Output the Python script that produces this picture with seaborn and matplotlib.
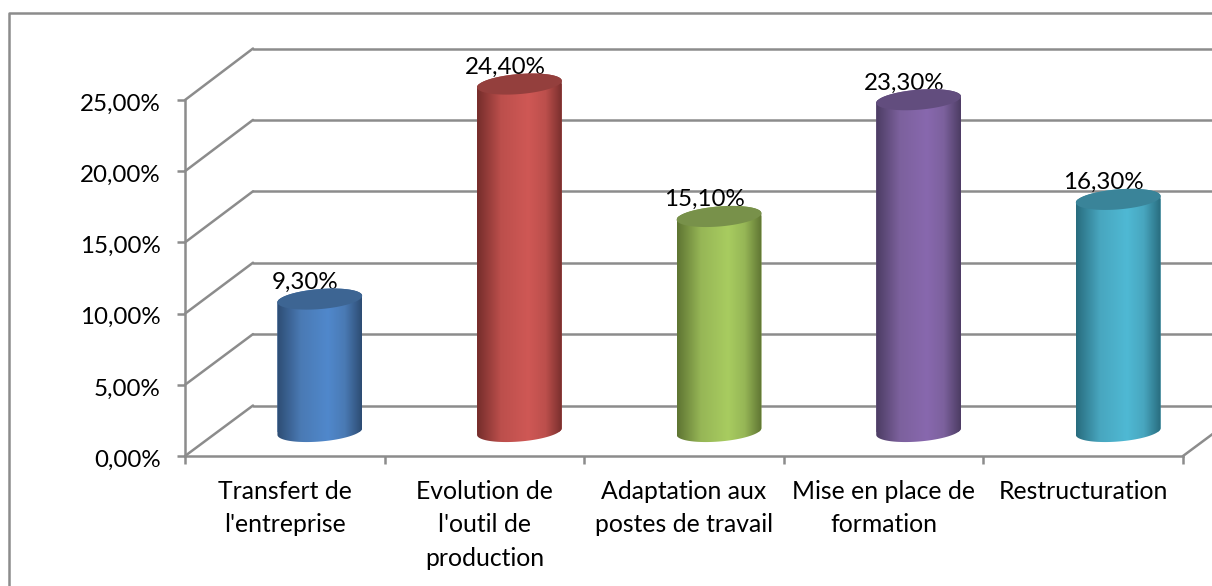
import numpy as np
import matplotlib
matplotlib.use("Agg")
import matplotlib.pyplot as plt
import seaborn as sns
from matplotlib.colors import LinearSegmentedColormap
from matplotlib.lines import Line2D
from matplotlib.patches import ConnectionPatch
from matplotlib.path import Path
from matplotlib.transforms import ScaledTranslation

categories = ["Transfert de\nl'entreprise", "Evolution de\nl'outil de\nproduction",
              "Adaptation aux\npostes de travail", "Mise en place de\nformation", "Restructuration"]
values = [9.3, 24.4, 15.1, 23.3, 16.3]
y_ticks = [0, 5, 10, 15, 20, 25]
body_colors = ["#4A7AB4", "#BC4F4C", "#96B656", "#7C619D", "#48A6BF"]
light_colors = ["#5088CC", "#CF5855", "#A8CC60", "#8868AE", "#4FB9D4"]
dark_colors = ["#2D4C73", "#752D2B", "#5E7432", "#4C3C63", "#286C7E"]
top_colors = ["#3D6593", "#943F3D", "#78914A", "#624D7E", "#3A8499"]
grey = "#8C8C8C"

W, H = 1212, 586
sns.set_theme(style="white")
plt.rcParams["font.family"] = ["Lato", "DejaVu Sans"]
fig = plt.figure(figsize=(W / 100, H / 100), dpi=100)

def rect(x0, ytop, x1, ybot):
    return [x0 / W, 1 - ybot / H, (x1 - x0) / W, (ybot - ytop) / H]

# Back wall, front axis plane and middle plane for the cylinders
ax_back = fig.add_axes(rect(253, 48.5, 1251, 405.5), zorder=0)
ax = fig.add_axes(rect(185, 100, 1183, 456), zorder=1)
ax_cyl = fig.add_axes(rect(220, 75.5, 1218, 431.5), zorder=2)

for a in (ax_back, ax, ax_cyl):
    a.set_xlim(-0.5, 4.5)
    a.set_ylim(0, 25)
    a.patch.set_visible(False)

ax_back.set_xticks([])
ax_back.set_yticks(y_ticks)
ax_back.set_yticklabels([])
ax_back.tick_params(left=False)
ax_back.grid(True, axis="y", color=grey, lw=1.8)
for line in ax_back.get_ygridlines():
    line.set_clip_on(False)
for s in ax_back.spines.values():
    s.set_visible(False)

for name, s in ax.spines.items():
    s.set_visible(name in ("left", "bottom"))
    s.set_color(grey)
    s.set_linewidth(1.8)
ax.set_yticks(y_ticks)
ax.set_yticklabels([f"{v:.2f}%".replace(".", ",") for v in y_ticks], fontsize=17.4, color="black")
ax.set_xticks(np.arange(-0.5, 5, 1))
ax.set_xticklabels([])
ax.set_xticks(range(5), categories, minor=True, fontsize=17.8, color="black", linespacing=1.56)
ax.tick_params(axis="x", which="major", length=6, width=1.8, color=grey, direction="out", bottom=True)
ax.tick_params(axis="x", which="minor", length=0, pad=17, bottom=False)
ax.tick_params(axis="y", length=6, width=1.8, color=grey, direction="out", left=True, pad=11.5)
for lab in ax.get_yticklabels():
    lab.set_transform(lab.get_transform() + ScaledTranslation(0, -1.5 / 72, fig.dpi_scale_trans))

# Floor and wall diagonals
for v in y_ticks:
    fig.add_artist(ConnectionPatch((-0.5, v), (-0.5, v), coordsA=ax.transData, coordsB=ax_back.transData,
                                   color=grey, lw=1.8, zorder=0.5))
fig.add_artist(ConnectionPatch((4.5, 0), (4.5, 0), coordsA=ax.transData, coordsB=ax_back.transData,
                               color=grey, lw=1.8, zorder=0.5))

# Outer frame
fig.add_artist(Line2D([9 / W, 9 / W, 1], [0, 1 - 13 / H, 1 - 13 / H], color=grey, lw=1.8, zorder=0))

# Cylinders
sns.barplot(x=list(range(5)), y=values, hue=list(range(5)), palette=body_colors, width=85 / 199.6,
            legend=False, dodge=False, ax=ax_cyl, saturation=1, zorder=3, linewidth=0)
ax_cyl.set_xlim(-0.5, 4.5)
ax_cyl.set_ylim(0, 25)
ax_cyl.axis("off")

sx = 5 / 998      # data units per pixel, x
sy = 25 / 356     # data units per pixel, y
tilt = np.deg2rad(4.7)
B = 10

def ellipse(cx, cy, a, t):
    ex = a * np.cos(t) * np.cos(tilt) - B * np.sin(t) * np.sin(tilt)
    ey = a * np.cos(t) * np.sin(tilt) + B * np.sin(t) * np.cos(tilt)
    return cx + ex * sx, cy + ey * sy

bars = sorted(ax_cyl.patches, key=lambda p: p.get_x())
for i, bar in enumerate(bars):
    cx = bar.get_x() + bar.get_width() / 2
    v = bar.get_height()
    a = bar.get_width() / 2 / sx
    tb = np.linspace(np.pi, 2 * np.pi, 60)
    tt = np.linspace(0, np.pi, 60)
    xb, yb = ellipse(cx, 0, a, tb)
    xt, yt = ellipse(cx, v, a, tt)
    sil = Path(np.column_stack([np.r_[xb, xt], np.r_[yb, yt]]))
    bar.set_clip_path(sil, ax_cyl.transData)
    cmap = LinearSegmentedColormap.from_list(
        "c", [(0, dark_colors[i]), (0.28, body_colors[i]), (0.6, light_colors[i]),
              (0.8, body_colors[i]), (1, dark_colors[i])])
    im = ax_cyl.imshow(np.linspace(0, 1, 256)[None, :], extent=[bar.get_x(), bar.get_x() + bar.get_width(), -2, v + 2],
                       aspect="auto", cmap=cmap, zorder=3.5)
    im.set_clip_box(fig.bbox)
    im.set_clip_path(sil, ax_cyl.transData)
    t = np.linspace(0, 2 * np.pi, 120)
    xe, ye = ellipse(cx, v, a, t)
    ax_cyl.fill(xe, ye, color=top_colors[i], lw=0, zorder=4, clip_on=False)
    ax_cyl.annotate(f"{v:.2f}%".replace(".", ","), (cx, v), xytext=(-10.5, 12), textcoords="offset points",
                    ha="center", va="center", fontsize=17.4, color="black", zorder=2, annotation_clip=False)
ax_cyl.set_xlim(-0.5, 4.5)
ax_cyl.set_ylim(0, 25)

fig.savefig("out.png", dpi=100, facecolor="white")
